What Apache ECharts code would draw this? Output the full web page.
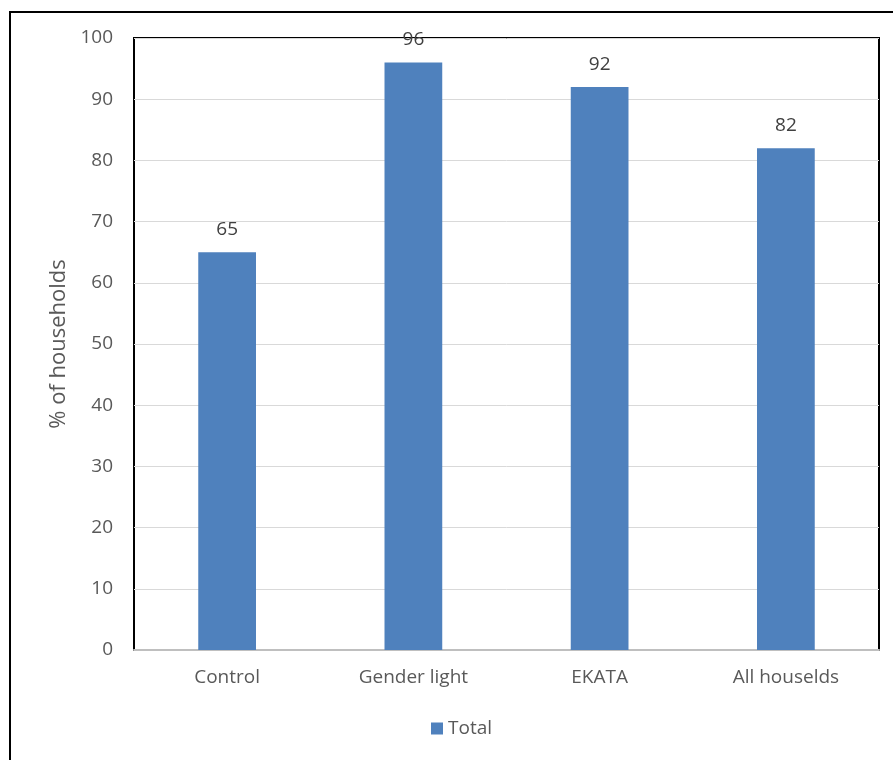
<!DOCTYPE html>
<html>
<head>
<meta charset="utf-8">
<script src="https://cdn.jsdelivr.net/npm/echarts@6/dist/echarts.min.js"></script>
<style>
html,body{margin:0;padding:0;background:#fff;}
#chart{width:893px;height:760px;}
</style>
</head>
<body>
<div id="chart"></div>
<script>
// Share of households by group
const categories = ['Control', 'Gender light', 'EKATA', 'All houselds'];
const totalValues = [65, 96, 92, 82];
const seriesName = 'Total';
const yTicks = { min: 0, max: 100, interval: 10 };

const FONT = '"Open Sans", "Liberation Sans", sans-serif';
const chart = echarts.init(document.getElementById('chart'));

chart.setOption({
  backgroundColor: '#fff',
  animation: false,
  graphic: [{
    type: 'rect',
    shape: { x: 10, y: 12, width: 900, height: 800 },
    style: { fill: 'none', stroke: '#000', lineWidth: 2 },
    z: -1
  }],
  grid: {
    left: 134, top: 38, right: 14, bottom: 110,
    show: true, borderColor: '#000', borderWidth: 2, backgroundColor: 'transparent'
  },
  legend: {
    bottom: 17, left: 426,
    itemWidth: 12, itemHeight: 12, itemGap: 6,
    icon: 'rect',
    textStyle: { fontFamily: FONT, fontSize: 19, color: '#595959' },
    data: [seriesName]
  },
  xAxis: {
    type: 'category',
    data: categories,
    axisLine: { show: true, lineStyle: { color: '#bfbfbf', width: 2 } },
    axisTick: { show: false },
    axisLabel: { fontFamily: FONT, fontSize: 19, color: '#595959', margin: 18 }
  },
  yAxis: {
    type: 'value',
    min: yTicks.min, max: yTicks.max, interval: yTicks.interval,
    name: '% of households',
    nameLocation: 'middle',
    nameGap: 63,
    nameTextStyle: { fontFamily: FONT, fontSize: 22, color: '#595959' },
    axisLine: { show: false },
    axisTick: { show: false },
    axisLabel: { fontFamily: FONT, fontSize: 19, color: '#595959', margin: 21 },
    splitLine: { lineStyle: { color: '#d9d9d9', width: 1 } }
  },
  series: [{
    name: seriesName,
    type: 'bar',
    data: totalValues,
    barWidth: '31%',
    itemStyle: { color: '#4f81bd' },
    label: {
      show: true, position: 'top', distance: 13,
      fontFamily: FONT, fontSize: 19, color: '#404040'
    }
  }]
});
</script>
</body>
</html>
